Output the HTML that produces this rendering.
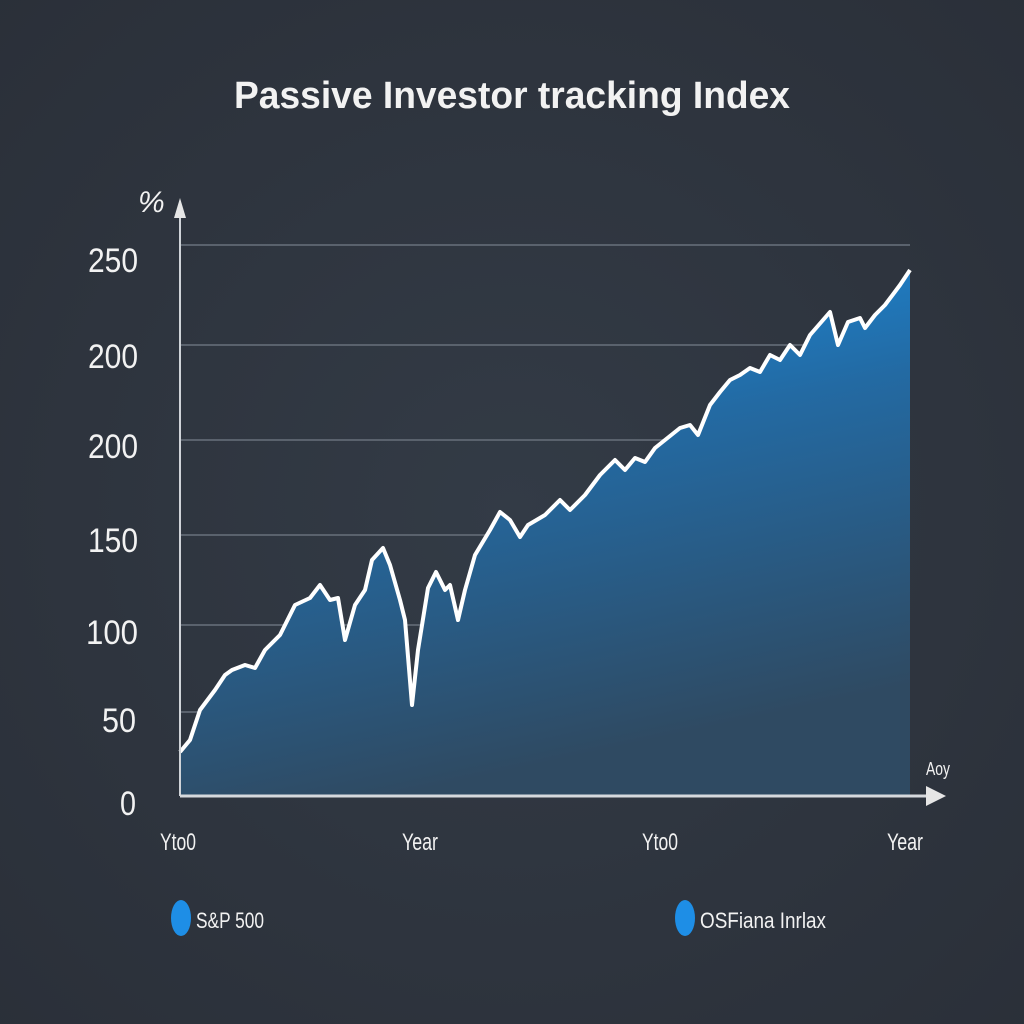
<!DOCTYPE html>
<html><head><style>
html,body{margin:0;padding:0;background:#2f3540;}
svg{display:block}
text{font-family:"Liberation Sans",sans-serif;fill:#f2f2f2}
</style></head><body>
<svg width="1024" height="1024" viewBox="0 0 1024 1024">
<defs>
<linearGradient id="g" x1="0" y1="0" x2="0.3" y2="1">
<stop offset="0" stop-color="#1994ec"/>
<stop offset="0.45" stop-color="#236aa3"/>
<stop offset="1" stop-color="#2f4a62"/>
</linearGradient>
<radialGradient id="bg" cx="0.5" cy="0.5" r="0.75">
<stop offset="0" stop-color="#333b46"/><stop offset="1" stop-color="#2a2f38"/>
</radialGradient>
</defs>
<rect width="1024" height="1024" fill="url(#bg)"/>
<text x="512" y="108" text-anchor="middle" font-size="38" font-weight="bold" textLength="556" lengthAdjust="spacingAndGlyphs">Passive Investor tracking Index</text>
<text x="138" y="212" font-size="30" font-style="italic">%</text>
<g stroke="#5a626d" stroke-width="2">
<line x1="181" y1="245" x2="910" y2="245"/>
<line x1="181" y1="345" x2="910" y2="345"/>
<line x1="181" y1="440" x2="910" y2="440"/>
<line x1="181" y1="535" x2="910" y2="535"/>
<line x1="181" y1="625" x2="910" y2="625"/>
<line x1="181" y1="712" x2="910" y2="712"/>
</g>
<path d="M180,796 L180,752 L190,740 L200,710 L215,690 L225,675 L232,670 L245,665 L255,668 L265,650 L280,635 L295,605 L310,598 L320,585 L330,600 L338,598 L345,640 L355,605 L365,590 L372,560 L383,548 L390,565 L400,600 L405,620 L412,705 L418,650 L428,588 L436,572 L445,590 L450,585 L458,620 L465,590 L475,555 L490,530 L500,512 L510,520 L520,537 L528,525 L545,515 L560,500 L570,510 L585,495 L600,475 L615,460 L625,470 L635,458 L645,462 L655,448 L665,440 L680,428 L690,425 L698,435 L710,405 L720,392 L730,380 L740,375 L750,368 L760,372 L770,355 L780,360 L790,345 L800,355 L810,335 L830,312 L838,345 L848,322 L860,318 L865,328 L875,315 L885,305 L900,285 L910,270 L910,796 Z" fill="url(#g)"/>
<path d="M180,752 L190,740 L200,710 L215,690 L225,675 L232,670 L245,665 L255,668 L265,650 L280,635 L295,605 L310,598 L320,585 L330,600 L338,598 L345,640 L355,605 L365,590 L372,560 L383,548 L390,565 L400,600 L405,620 L412,705 L418,650 L428,588 L436,572 L445,590 L450,585 L458,620 L465,590 L475,555 L490,530 L500,512 L510,520 L520,537 L528,525 L545,515 L560,500 L570,510 L585,495 L600,475 L615,460 L625,470 L635,458 L645,462 L655,448 L665,440 L680,428 L690,425 L698,435 L710,405 L720,392 L730,380 L740,375 L750,368 L760,372 L770,355 L780,360 L790,345 L800,355 L810,335 L830,312 L838,345 L848,322 L860,318 L865,328 L875,315 L885,305 L900,285 L910,270" fill="none" stroke="#fff" stroke-width="4" stroke-linejoin="round"/>
<line x1="180" y1="796" x2="180" y2="215" stroke="#cfd3d8" stroke-width="2"/>
<polygon points="180,198 174,218 186,218" fill="#e6e6e6"/>
<line x1="180" y1="796" x2="930" y2="796" stroke="#d6d9dd" stroke-width="3"/>
<polygon points="946,796 926,786 926,806" fill="#e6e6e6"/>
<g font-size="34" text-anchor="end">
<text x="138" y="272" textLength="50" lengthAdjust="spacingAndGlyphs">250</text>
<text x="138" y="368" textLength="50" lengthAdjust="spacingAndGlyphs">200</text>
<text x="138" y="458" textLength="50" lengthAdjust="spacingAndGlyphs">200</text>
<text x="138" y="552" textLength="50" lengthAdjust="spacingAndGlyphs">150</text>
<text x="138" y="644" textLength="52" lengthAdjust="spacingAndGlyphs">100</text>
<text x="136" y="732" textLength="34" lengthAdjust="spacingAndGlyphs">50</text>
<text x="136" y="815" textLength="16" lengthAdjust="spacingAndGlyphs">0</text>
</g>
<text x="926" y="775" font-size="18" textLength="24" lengthAdjust="spacingAndGlyphs">Aoy</text>
<g font-size="24" text-anchor="middle">
<text x="178" y="850" textLength="36" lengthAdjust="spacingAndGlyphs">Yto0</text>
<text x="420" y="850" textLength="36" lengthAdjust="spacingAndGlyphs">Year</text>
<text x="660" y="850" textLength="36" lengthAdjust="spacingAndGlyphs">Yto0</text>
<text x="905" y="850" textLength="36" lengthAdjust="spacingAndGlyphs">Year</text>
</g>
<ellipse cx="181" cy="918" rx="10" ry="18" fill="#1e8ee6"/>
<text x="196" y="928" font-size="22" textLength="68" lengthAdjust="spacingAndGlyphs">S&amp;P 500</text>
<ellipse cx="685" cy="918" rx="10" ry="18" fill="#1e8ee6"/>
<text x="700" y="928" font-size="22" textLength="126" lengthAdjust="spacingAndGlyphs">OSFiana Inrlax</text>
</svg>
</body></html>
